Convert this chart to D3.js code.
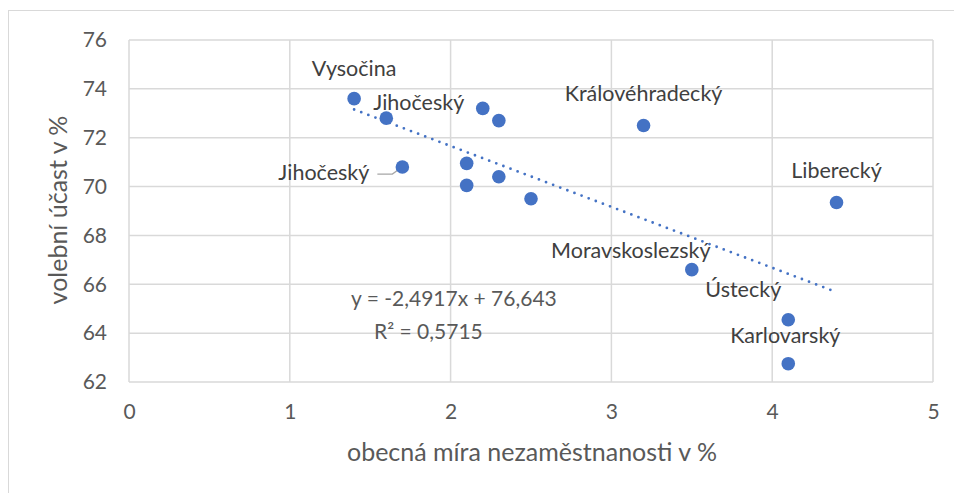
<!DOCTYPE html>
<html lang="cs">
<head>
<meta charset="UTF-8">
<script src="https://d3js.org/d3.v7.min.js"></script>
<style>
  body { margin: 0; background: #fff; }
  svg { display: block; font-family: Lato, "Open Sans", sans-serif; }
</style>
</head>
<body>
<svg id="chart" width="954" height="493"></svg>
<script>
// data: nezaměstnanost (x) vs. volební účast (y)
const nezam  = [1.4, 1.6, 1.7, 2.2, 2.3, 2.1, 2.1, 2.3, 2.5, 3.2, 4.4, 3.5, 4.1, 4.1];
const ucast  = [73.6, 72.8, 70.8, 73.2, 72.7, 70.95, 70.05, 70.4, 69.5, 72.5, 69.35, 66.6, 64.55, 62.75];
const popisky = ["Vysočina", "Jihočeský", "Jihočeský", "", "", "", "", "", "",
                 "Královéhradecký", "Liberecký", "Moravskoslezský", "Ústecký", "Karlovarský"];
const xTicks = [0, 1, 2, 3, 4, 5];
const yTicks = [62, 64, 66, 68, 70, 72, 74, 76];
const trendA = -2.4917, trendB = 76.643;
const rovnice = "y = -2,4917x + 76,643";
const r2text = "R² = 0,5715";

// label offsets relative to point (px) and anchors, layout only
const labelOffset = [
  [0, -23], [-13, -8], [-33, 13], null, null, null, null, null, null,
  [0, -25], [0, -24], [-61, -12], [-45, -23], [-3, -21]
];
const labelAnchor = ["middle", "start", "end", "", "", "", "", "", "",
                     "middle", "middle", "middle", "middle", "middle"];

const svg = d3.select("#chart");
const m = { left: 129, right: 933, top: 40, bottom: 382 };
const FS = 21.5;

// outer frame
svg.append("rect").attr("x", 8.5).attr("y", 10.5).attr("width", 1000).attr("height", 600)
  .attr("fill", "none").attr("stroke", "#d9d9d9").attr("stroke-width", 1);

const x = d3.scaleLinear().domain([0, 5]).range([m.left, m.right]);
const y = d3.scaleLinear().domain([62, 76]).range([m.bottom, m.top]);

// gridlines
svg.append("g").selectAll("line").data(yTicks).join("line")
  .attr("x1", m.left).attr("x2", m.right)
  .attr("y1", d => y(d)).attr("y2", d => y(d))
  .attr("stroke", "#d9d9d9").attr("stroke-width", 1.5);
svg.append("g").selectAll("line").data(xTicks).join("line")
  .attr("y1", m.top).attr("y2", m.bottom)
  .attr("x1", d => x(d)).attr("x2", d => x(d))
  .attr("stroke", "#d9d9d9").attr("stroke-width", 1.5);

// tick labels
const xAxis = svg.append("g").attr("transform", `translate(0,${m.bottom})`)
  .call(d3.axisBottom(x).tickValues(xTicks).tickSize(0).tickPadding(22).tickFormat(d3.format("d")));
const yAxis = svg.append("g").attr("transform", `translate(${m.left},0)`)
  .call(d3.axisLeft(y).tickValues(yTicks).tickSize(0).tickPadding(22).tickFormat(d3.format("d")));
[xAxis, yAxis].forEach(g => {
  g.select(".domain").remove();
  g.selectAll("text").attr("fill", "#595959").attr("font-size", 21)
    .attr("font-family", "Lato, sans-serif");
});

// axis titles
svg.append("text").attr("x", 532).attr("y", 461).attr("text-anchor", "middle")
  .attr("fill", "#595959").attr("font-size", 25).text("obecná míra nezaměstnanosti v %");
svg.append("text").attr("transform", "translate(67,210) rotate(-90)").attr("text-anchor", "middle")
  .attr("fill", "#595959").attr("font-size", 25).text("volební účast v %");

// trendline
const tx = d3.extent(nezam);
svg.append("line")
  .attr("x1", x(tx[0])).attr("y1", y(trendA * tx[0] + trendB))
  .attr("x2", x(tx[1])).attr("y2", y(trendA * tx[1] + trendB))
  .attr("stroke", "#4472c4").attr("stroke-width", 2.8)
  .attr("stroke-linecap", "round").attr("stroke-dasharray", "0 7.6");

// leader line for lower Jihočeský
const lx = x(nezam[2]), ly = y(ucast[2]);
svg.append("path")
  .attr("d", `M${lx - 25},${ly + 7} L${lx - 10},${ly + 7} L${lx - 3},${ly + 2}`)
  .attr("fill", "none").attr("stroke", "#a6a6a6").attr("stroke-width", 1.3);

// points
svg.append("g").selectAll("circle").data(nezam).join("circle")
  .attr("cx", d => x(d)).attr("cy", (d, i) => y(ucast[i])).attr("r", 6.8)
  .attr("fill", "#4472c4");

// data labels
const labels = popisky.map((t, i) => ({ t, i })).filter(d => d.t !== "");
svg.append("g").selectAll("text").data(labels).join("text")
  .attr("x", d => x(nezam[d.i]) + labelOffset[d.i][0])
  .attr("y", d => y(ucast[d.i]) + labelOffset[d.i][1])
  .attr("text-anchor", d => labelAnchor[d.i])
  .attr("fill", "#404040").attr("font-size", FS).text(d => d.t);

// trendline equation
svg.append("text").attr("x", 351).attr("y", 306).attr("fill", "#595959")
  .attr("font-size", 21).text(rovnice);
svg.append("text").attr("x", 374).attr("y", 339).attr("fill", "#595959")
  .attr("font-size", 21).text(r2text);
</script>
</body>
</html>
